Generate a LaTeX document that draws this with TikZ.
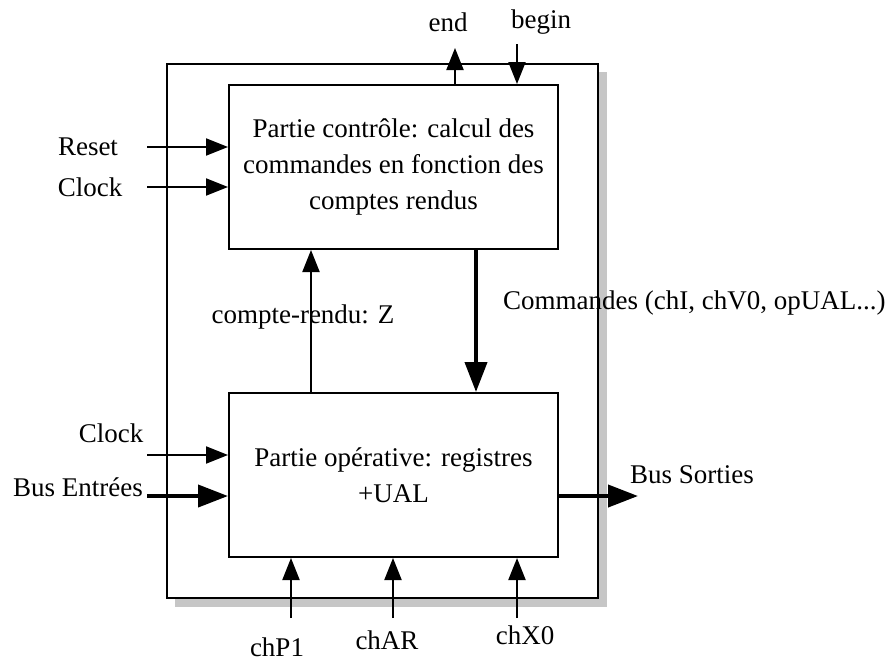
\documentclass[tikz,border=0pt]{standalone}
\usepackage{fontspec}
\setmainfont{Liberation Serif}
\usetikzlibrary{arrows.meta}

\begin{document}
\begin{tikzpicture}[x=0.5pt,y=-0.5pt,
  every node/.append style={font=\fontsize{13.5}{18}\selectfont},
  box/.style={rectangle,draw,line width=1pt,minimum width=164.5pt,minimum height=82pt,align=center,inner sep=0pt},
  sig/.style={line width=1pt,-{Triangle[length=11pt,width=8.5pt]}},
  bus/.style={line width=2pt,-{Triangle[length=15pt,width=11pt]}}]
\useasboundingbox (0,0) rectangle (892,660);
\fill [gray!45] (175,72) rectangle (607,607);
\node (outer) at (382.5,331) [rectangle,draw,fill=white,line width=1pt,minimum width=215.5pt,minimum height=267pt] {};
\node (ctrl) at (393.5,167) [box] {Partie contrôle: calcul des\\commandes en fonction des\\comptes rendus};
\node (op)   at (393.5,475) [box] {Partie opérative: registres\\+UAL};
% top
\node (endlbl)   at (448,22) {end};
\node (beginlbl) at (541,22) {begin};
\coordinate (endtip)   at (455,48);
\coordinate (beginsrc) at (517,44);
\draw [sig] (endtip |- ctrl.north) -- (endtip);
\draw [sig] (beginsrc) -- (beginsrc |- ctrl.north);
% left
\node (reset)  at (88,147)  {Reset};
\node (clockA) at (90,187)  {Clock};
\node (clockB) at (111,433) {Clock};
\node (busin)  at (78,487)  {Bus Entrées};
\coordinate (resetsrc)  at (147,147);
\coordinate (clockAsrc) at (147,187);
\coordinate (clockBsrc) at (147,455);
\coordinate (businsrc)  at (147,496);
\draw [sig] (resetsrc)  -- (resetsrc -| ctrl.west);
\draw [sig] (clockAsrc) -- (clockAsrc -| ctrl.west);
\draw [sig] (clockBsrc) -- (clockBsrc -| op.west);
\draw [bus] (businsrc)  -- (businsrc -| op.west);
% right
\coordinate (busouttip) at (638,496);
\draw [bus] (busouttip -| op.east) -- (busouttip);
\node (busout) at (692,475) {Bus Sorties};
% between
\draw [sig] ([xshift=-41.25pt]op.north) -- ([xshift=-41.25pt]ctrl.south);
\draw [bus] ([xshift=41.25pt]ctrl.south) -- ([xshift=41.25pt]op.north);
\node (crlbl)  at (303,317) {compte-rendu: Z};
\node (cmdlbl) at (496,303) [anchor=west] {Commandes (chI, chV0, opUAL...)};
% bottom
\coordinate (chPsrc) at (291,618);
\coordinate (chAsrc) at (393,618);
\coordinate (chXsrc) at (517,618);
\draw [sig] (chPsrc) -- (chPsrc |- op.south);
\draw [sig] (chAsrc) -- (chAsrc |- op.south);
\draw [sig] (chXsrc) -- (chXsrc |- op.south);
\node (chPlbl) at (277,647) {chP1};
\node (chAlbl) at (387,640) {chAR};
\node (chXlbl) at (525,635) {chX0};
\end{tikzpicture}
\end{document}
